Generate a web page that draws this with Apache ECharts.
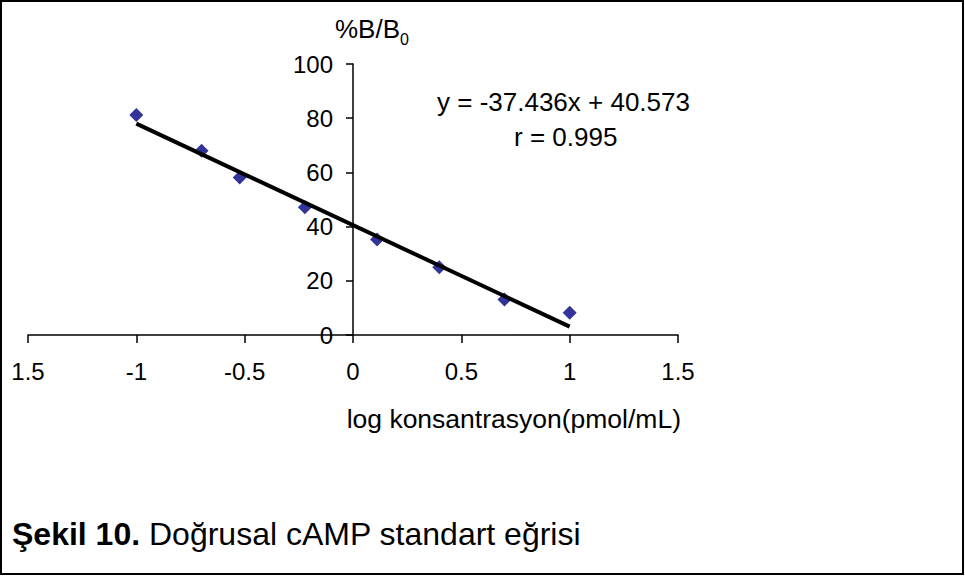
<!DOCTYPE html>
<html>
<head>
<meta charset="utf-8">
<script src="https://cdn.jsdelivr.net/npm/echarts@6/dist/echarts.min.js"></script>
<style>html,body{margin:0;padding:0;background:#fff}#c{width:965px;height:576px}</style>
</head>
<body>
<div id="c"></div>
<script>
// data
const logConc = [-1, -0.699, -0.523, -0.222, 0.111, 0.398, 0.699, 1];
const pctBB0 = [81.2, 68.0, 58.1, 47.1, 35.2, 25.0, 13.1, 8.2];
const trendX = [-1, 1];
const trendY = [78.0, 3.1];
const xTickLabels = ['1.5', '-1', '-0.5', '0', '0.5', '1', '1.5'];
const yTickLabels = ['0', '20', '40', '60', '80', '100'];
const equationText = 'y = -37.436x + 40.573';
const rText = 'r = 0.995';
const xTitle = 'log konsantrasyon(pmol/mL)';
const captionBold = 'Şekil 10.';
const captionRest = ' Doğrusal cAMP standart eğrisi';

const FONT = '"Liberation Sans", Arial, sans-serif';
const chart = echarts.init(document.getElementById('c'), null, {renderer: 'svg'});
const xMin = -1.5, xMax = 1.5, xStep = 0.5, yStep = 20;
const gridLeft = 28, gridRight = 287, W = 965;
const gridW = W - gridLeft - gridRight;
// place the y axis where x = 0
const yAxisShift = gridW * (0 - xMin) / (xMax - xMin);
chart.setOption({
  backgroundColor: '#fff',
  animation: false,
  grid: {left: gridLeft, right: gridRight, top: 64, bottom: 241, containLabel: false, outerBoundsMode: 'none'},
  xAxis: {
    type: 'value', min: xMin, max: xMax, interval: xStep,
    axisLine: {onZero: false, lineStyle: {color: '#000', width: 1.5}},
    axisTick: {show: true, inside: false, length: 8, lineStyle: {color: '#000', width: 1.5}},
    axisLabel: {
      color: '#000', fontFamily: FONT, fontSize: 24, margin: 24,
      formatter: v => xTickLabels[Math.round((v - xMin) / xStep)]
    },
    splitLine: {show: false}
  },
  yAxis: {
    type: 'value', min: 0, max: 100, interval: yStep,
    position: 'left', offset: -yAxisShift,
    axisLine: {show: true, onZero: false, lineStyle: {color: '#000', width: 1.5}},
    axisTick: {show: true, inside: false, length: 7, lineStyle: {color: '#000', width: 1.5}},
    axisLabel: {
      color: '#000', fontFamily: FONT, fontSize: 24, margin: 20,
      formatter: v => yTickLabels[Math.round(v / yStep)]
    },
    splitLine: {show: false}
  },
  series: [
    {
      type: 'scatter',
      data: logConc.map((x, i) => [x, pctBB0[i]]),
      symbol: 'diamond', symbolSize: [14, 14],
      itemStyle: {color: '#000080'},
      z: 2
    },
    {
      type: 'line',
      data: trendX.map((x, i) => [x, trendY[i]]),
      symbol: 'none',
      lineStyle: {color: '#000', width: 4},
      z: 3
    }
  ],
  graphic: [
    {type: 'rect', shape: {x: 1, y: 1, width: 962, height: 573},
     style: {fill: 'none', stroke: '#000', lineWidth: 2}, z: 10},
    {type: 'text', left: 335, top: 16, z: 10,
     style: {text: '{a|%B/B}{s|0}', fill: '#000',
       rich: {a: {fontFamily: FONT, fontSize: 26, fill: '#000', verticalAlign: 'bottom'},
              s: {fontFamily: FONT, fontSize: 16, fill: '#000', verticalAlign: 'bottom', padding: [0, 0, -5, 0]}}}},
    {type: 'text', left: 437, top: 89, z: 10,
     style: {text: equationText, fill: '#000', font: '26px ' + FONT}},
    {type: 'text', left: 514, top: 124, z: 10,
     style: {text: rText, fill: '#000', font: '26px ' + FONT}},
    {type: 'text', right: 284, top: 405, z: 10,
     style: {text: xTitle, fill: '#000', font: '26.5px ' + FONT}},
    {type: 'text', left: 12, top: 518, z: 10,
     style: {text: '{b|' + captionBold + '}{r|' + captionRest + '}',
       rich: {b: {fontFamily: FONT, fontSize: 32, fontWeight: 'bold', fill: '#000'},
              r: {fontFamily: FONT, fontSize: 32, fill: '#000'}}}}
  ]
});
</script>
</body>
</html>
